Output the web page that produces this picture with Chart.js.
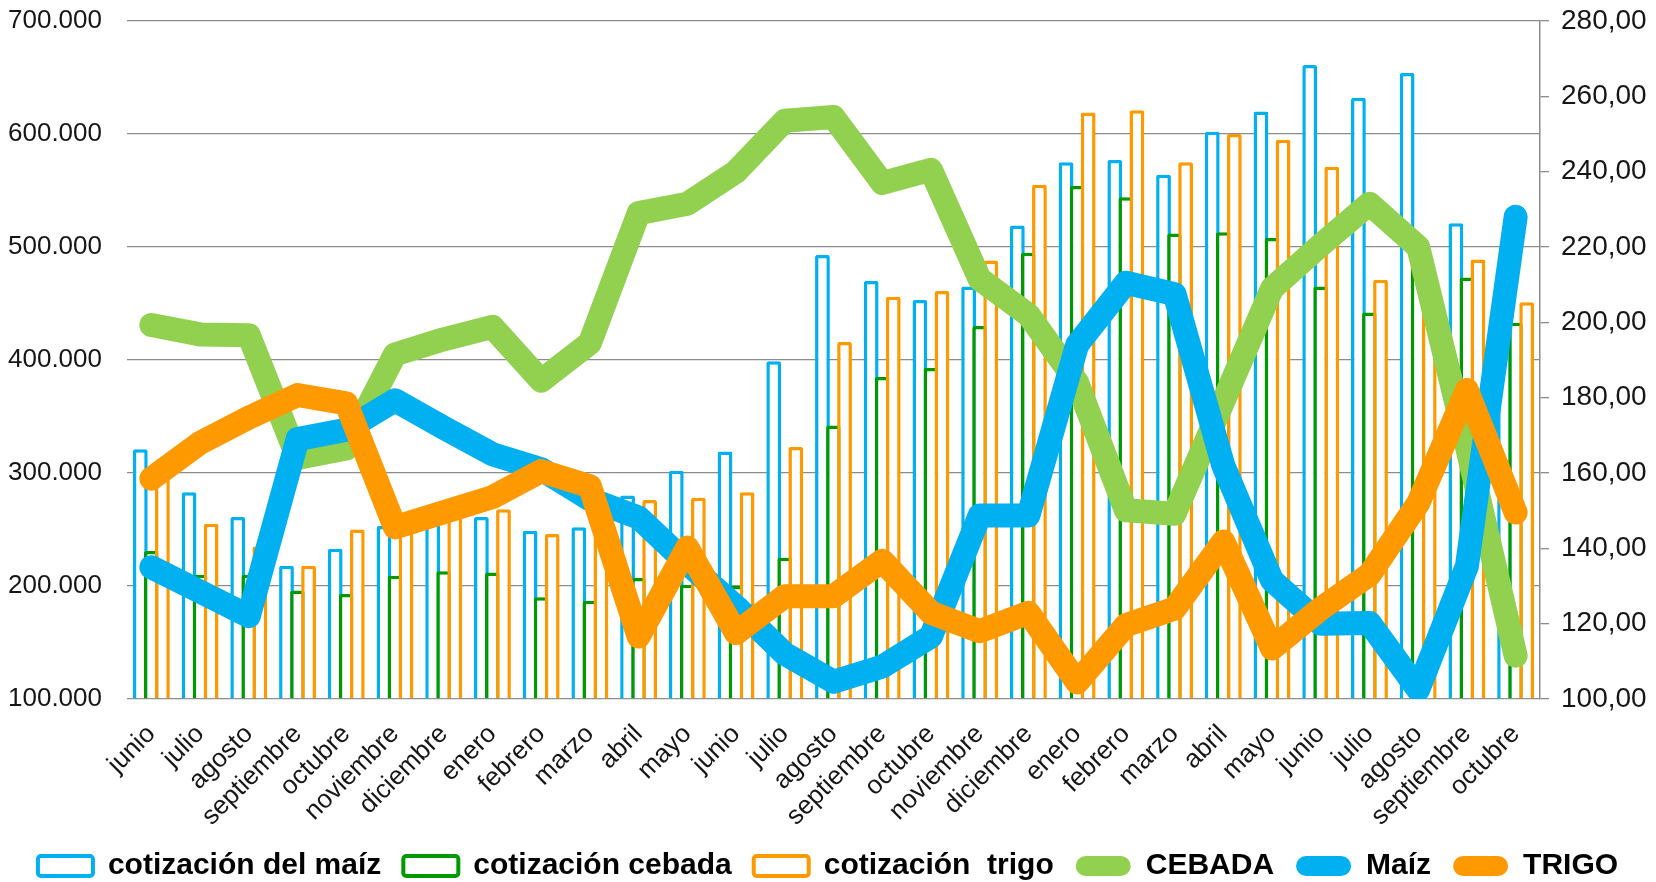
<!DOCTYPE html>
<html lang="es">
<head>
<meta charset="utf-8">
<title>Cotización maíz, cebada y trigo</title>
<script src="https://cdn.jsdelivr.net/npm/chart.js@4.4.1/dist/chart.umd.min.js"></script>
<style>
  html, body { margin: 0; padding: 0; background: #fff; }
  #wrap { width: 1656px; height: 882px; }
</style>
</head>
<body>
<div id="wrap"><canvas id="chart" width="1656" height="882"></canvas></div>
<script>
const meses = [
  "junio", "julio", "agosto", "septiembre", "octubre", "noviembre", "diciembre",
  "enero", "febrero", "marzo", "abril", "mayo",
  "junio", "julio", "agosto", "septiembre", "octubre", "noviembre", "diciembre",
  "enero", "febrero", "marzo", "abril", "mayo",
  "junio", "julio", "agosto", "septiembre", "octubre"
];

// barras (eje izquierdo)
const cotizMaiz = [321000, 283000, 261000, 218000, 233000, 253000, 262000, 261000, 249000, 252000,
  280000, 302000, 319000, 399000, 493000, 470000, 453000, 465000, 519000, 575000,
  577000, 564000, 602000, 620000, 661000, 632000, 654000, 521000, 480000];
const cotizCebada = [231000, 210000, 210000, 196000, 193000, 209000, 213000, 212000, 190000, 187000,
  207000, 201000, 200000, 225000, 342000, 385000, 393000, 430000, 495000, 554000,
  544000, 512000, 513000, 508000, 465000, 442000, 490000, 473000, 433000];
const cotizTrigo = [300000, 255000, 235000, 218000, 250000, 255000, 270000, 268000, 246000, 245000,
  276000, 278000, 283000, 323000, 416000, 456000, 461000, 488000, 555000, 619000,
  621000, 575000, 600000, 595000, 571000, 471000, 470000, 489000, 451000];

// líneas (eje derecho)
const precioCebada = [199.3, 196.8, 196.6, 164, 166.5, 191.5, 195.5, 198.8, 184.5, 194.5,
  229, 231.5, 240, 253.5, 254.5, 237, 240.5, 211.5, 202, 184,
  150.1, 149.2, 179, 209, 220.5, 231.5, 220, 167, 111.5];
const precioMaiz = [135, 128.5, 122, 169, 171.5, 179.3, 172, 165, 161, 153,
  148.2, 136, 124.5, 112, 104.6, 108.6, 116.6, 148.7, 148.7, 194,
  210.5, 207.5, 162, 131.5, 120, 120.2, 102.5, 135.3, 228];
const precioTrigo = [158.5, 168, 174.7, 180.7, 178.5, 145.6, 149.6, 153.6, 160.5, 156.5,
  116.6, 140.2, 117.5, 127.3, 127.3, 136.7, 122.9, 118, 122.9, 104.4,
  119.6, 124, 141.8, 113.4, 124, 133, 152, 182, 149.5];

const AZUL = "#00B0F0";
const VERDE = "#009A00";
const NARANJA = "#FF9900";
const VERDE_CLARO = "#92D050";
const TEXTO = "#161616";
const GRIS = "#8c8c8c";
const BASE_BARRAS = 100000;

Chart.defaults.font.family = "'Liberation Sans', Arial, sans-serif";
Chart.defaults.color = TEXTO;

function barra(label, data, color, order) {
  return {
    type: "bar",
    label: label,
    data: data,
    yAxisID: "y",
    base: BASE_BARRAS,
    backgroundColor: "#ffffff",
    borderColor: color,
    borderWidth: 3.5,
    borderSkipped: "start",
    borderRadius: 2,
    categoryPercentage: 0.68,
    barPercentage: 1.34,
    order: order,
  };
}

function linea(label, data, color, order) {
  return {
    type: "line",
    label: label,
    data: data,
    yAxisID: "y1",
    borderColor: color,
    backgroundColor: color,
    borderWidth: 24,
    borderJoinStyle: "round",
    borderCapStyle: "round",
    pointRadius: 0,
    pointHoverRadius: 0,
    tension: 0,
    fill: false,
    clip: { left: 40, right: 40, top: 40, bottom: 0 },
    order: order,
  };
}

// las barras se pintan antes que las líneas: maíz, cebada y trigo encima
const ordenBarras = {
  id: "ordenBarras",
  beforeDatasetsDraw(chart) {
    const ctx = chart.ctx;
    Chart.helpers.clipArea(ctx, chart.chartArea);
    [0, 1, 2].forEach((i) => {
      const meta = chart.getDatasetMeta(i);
      if (!meta.hidden) meta.controller.draw();
    });
    Chart.helpers.unclipArea(ctx);
  },
  beforeDatasetDraw(chart, args) {
    if (args.meta.type === "bar") return false;
  },
};

const ctx = document.getElementById("chart").getContext("2d");

new Chart(ctx, {
  data: {
    labels: meses,
    datasets: [
      barra("cotización del maíz", cotizMaiz, AZUL, 1),
      barra("cotización cebada", cotizCebada, VERDE, 2),
      barra("cotización  trigo", cotizTrigo, NARANJA, 3),
      linea("CEBADA", precioCebada, VERDE_CLARO, 6),
      linea("Maíz", precioMaiz, AZUL, 5),
      linea("TRIGO", precioTrigo, NARANJA, 4),
    ],
  },
  plugins: [ordenBarras],
  options: {
    responsive: false,
    animation: false,
    devicePixelRatio: 1,
    layout: { padding: { top: 21, left: 0, right: 0, bottom: -9 } },
    scales: {
      x: {
        offset: true,
        grid: { display: false },
        border: { display: false },
        ticks: {
          autoSkip: false,
          maxRotation: 45,
          minRotation: 45,
          padding: 12,
          color: TEXTO,
          font: { size: 26 },
        },
        afterFit: (scale) => { scale.height = 130; },
      },
      y: {
        position: "left",
        min: 100000,
        max: 700000,
        ticks: {
          stepSize: 100000,
          padding: 25,
          color: TEXTO,
          font: { size: 26 },
          callback: (v) => (v / 1000) + ".000",
        },
        grid: { color: GRIS, lineWidth: 1.3, drawTicks: false },
        border: { display: false },
        afterFit: (scale) => {
          scale.width = 127;
          scale.paddingTop = 0;
          scale.paddingBottom = 0;
        },
      },
      y1: {
        position: "right",
        min: 100,
        max: 280,
        ticks: {
          stepSize: 20,
          padding: 12,
          color: TEXTO,
          font: { size: 28 },
          callback: (v) => v.toFixed(2).replace(".", ","),
        },
        grid: { drawOnChartArea: false, tickLength: 9, color: GRIS, lineWidth: 1.3 },
        border: { display: true, color: GRIS, width: 1.5 },
        afterFit: (scale) => {
          scale.width = 116;
          scale.paddingTop = 0;
          scale.paddingBottom = 0;
        },
      },
    },
    plugins: {
      tooltip: { enabled: false },
      legend: {
        position: "bottom",
        labels: {
          boxWidth: 55,
          boxHeight: 20,
          padding: 22,
          color: "#000",
          useBorderRadius: true,
          font: { size: 30, weight: "bold" },
          sort: (a, b) => a.datasetIndex - b.datasetIndex,
          generateLabels: function (chart) {
            const items = Chart.defaults.plugins.legend.labels.generateLabels(chart);
            items.forEach((it) => {
              const ds = chart.data.datasets[it.datasetIndex];
              if (ds.type === "line") {
                it.fillStyle = ds.borderColor;
                it.strokeStyle = ds.borderColor;
                it.lineWidth = 0;
                it.borderRadius = 10;
              } else {
                it.fillStyle = "#ffffff";
                it.strokeStyle = ds.borderColor;
                it.lineWidth = 4;
                it.borderRadius = 3;
              }
            });
            return items;
          },
        },
      },
    },
  },
});
</script>
</body>
</html>
